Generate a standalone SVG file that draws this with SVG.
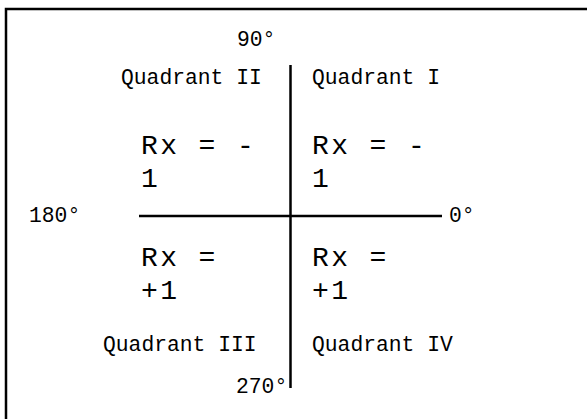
<svg xmlns="http://www.w3.org/2000/svg" width="587" height="419" viewBox="0 0 587 419">
<style>
.s{font-family:"Liberation Mono","Courier New",monospace;font-size:21.33px;fill:#000}
.b{font-family:"Liberation Mono","Courier New",monospace;font-size:28px;letter-spacing:2.4px;fill:#000}
.ln{stroke:#000;stroke-width:2.5;fill:none}
</style>
<rect x="0" y="0" width="587" height="419" fill="#fff"/>
<rect x="6" y="9" width="600" height="430" fill="none" stroke="#000" stroke-width="2.5"/>
<g id="axes">
<line class="ln" x1="139" y1="216" x2="442" y2="216"/>
<line class="ln" x1="290.5" y1="65" x2="290.5" y2="388"/>
</g>
<g id="labels">
<text class="s" x="237" y="46">90°</text>
<text class="s" x="29" y="222">180°</text>
<text class="s" x="449" y="222">0°</text>
<text class="s" x="236" y="393">270°</text>
</g>
<g id="q2"><text class="s" x="121" y="84">Quadrant II</text>
<text class="b" x="141" y="154">Rx = -</text><text class="b" x="141" y="186.5">1</text></g>
<g id="q1"><text class="s" x="312" y="84">Quadrant I</text>
<text class="b" x="312" y="154">Rx = -</text><text class="b" x="312" y="186.5">1</text></g>
<g id="q3"><text class="s" x="103" y="351">Quadrant III</text>
<text class="b" x="141" y="266">Rx =</text><text class="b" x="141" y="298.5">+1</text></g>
<g id="q4"><text class="s" x="312" y="351">Quadrant IV</text>
<text class="b" x="312" y="266">Rx =</text><text class="b" x="312" y="298.5">+1</text></g>
</svg>
